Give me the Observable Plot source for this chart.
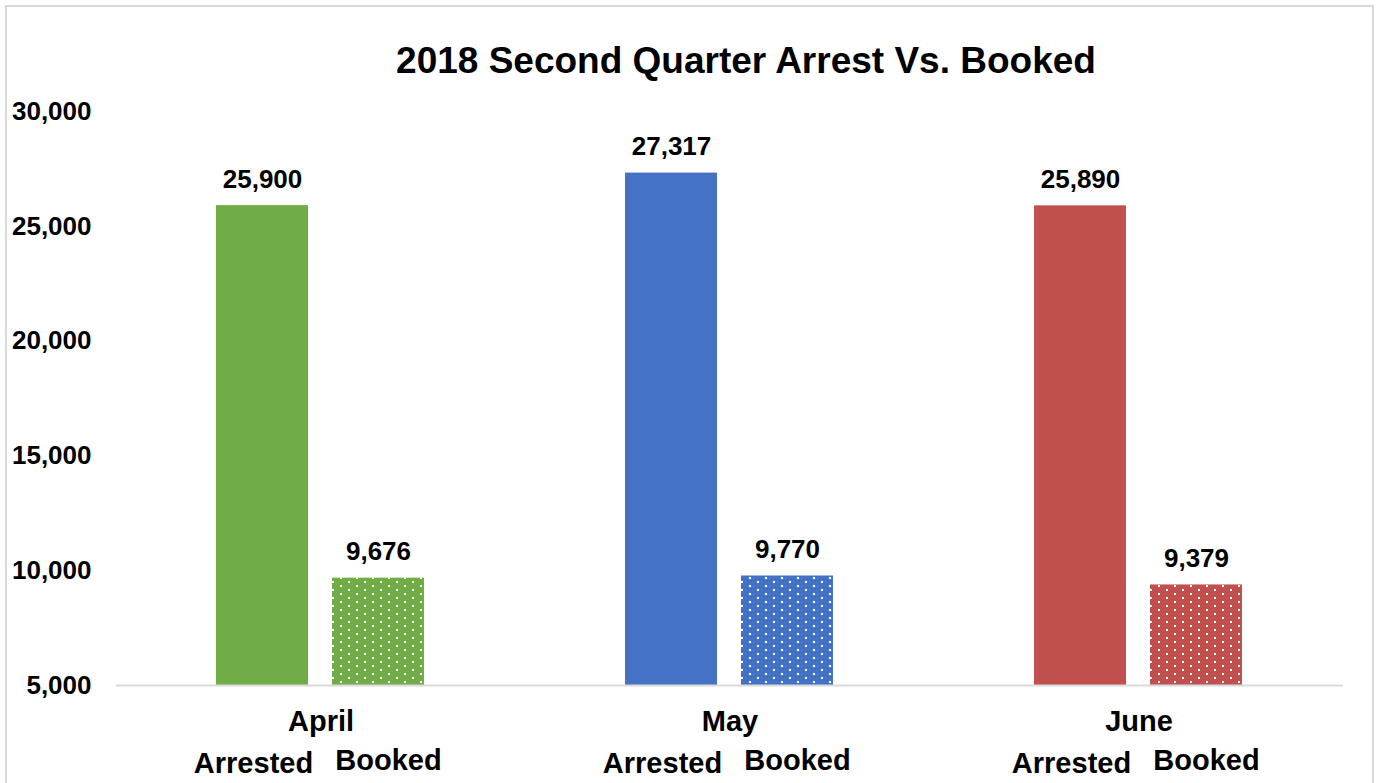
<!DOCTYPE html>
<html>
<head>
<meta charset="utf-8">
<script src="https://cdn.jsdelivr.net/npm/d3@7"></script>
<script src="https://cdn.jsdelivr.net/npm/@observablehq/plot@0.6"></script>
<style>
  html, body { margin: 0; padding: 0; background: #fff; }
  #wrap { position: relative; width: 1376px; height: 783px; overflow: hidden; font-family: "Liberation Sans", Arial, sans-serif; }
  #border { position: absolute; left: 5px; top: 5px; width: 1369px; height: 820px; border: 2px solid #d9d9d9; box-sizing: border-box; }
  #title { position: absolute; left: 746px; top: 42px; transform: translateX(-50%); white-space: nowrap;
           font-size: 37px; line-height: 37px; font-weight: bold; color: #000; }
  #chart { position: absolute; left: 0; top: 0; }
</style>
</head>
<body>
<div id="wrap">
  <div id="border"></div>
  <div id="chart"></div>
  <div id="title">2018 Second Quarter Arrest Vs. Booked</div>
</div>
<script>
const months = ["April", "May", "June"];
const types = ["Arrested", "Booked"];
const arrested = [25900, 27317, 25890];
const booked = [9676, 9770, 9379];
const monthColors = ["#70AD47", "#4472C4", "#C0504D"];
const yDomain = [5000, 30000];
const yTicks = [5000, 10000, 15000, 20000, 25000, 30000];

const data = [];
months.forEach((m, i) => {
  data.push({month: m, type: types[0], value: arrested[i], color: monthColors[i], idx: i});
  data.push({month: m, type: types[1], value: booked[i], color: monthColors[i], idx: i});
});
const fillOf = d => d.type === "Booked" ? `url(#dots-${d.idx})` : d.color;
const fmt = d3.format(",");
const font = "'Liberation Sans', Arial, sans-serif";
const arrestedRows = data.filter(d => d.type === "Arrested");
const bookedRows = data.filter(d => d.type === "Booked");

const chart = Plot.plot({
  width: 1376,
  height: 783,
  marginLeft: 115,
  marginRight: 32,
  marginTop: 111,
  marginBottom: 98,
  style: {fontFamily: font, fontWeight: "bold", color: "#000", background: "transparent", overflow: "visible"},
  fx: {domain: months, padding: 0, axis: null},
  x: {domain: types, paddingInner: 0.205, paddingOuter: 0.855, axis: null},
  y: {domain: yDomain, axis: null},
  color: {type: "identity"},
  marks: [
    Plot.barY(data, {fx: "month", x: "type", y1: () => yDomain[0], y2: "value", fill: fillOf}),
    Plot.ruleY([yDomain[0]], {stroke: "#d9d9d9", strokeWidth: 2}),
    Plot.axisY({ticks: yTicks, tickFormat: fmt, tickSize: 0, tickPadding: 25, fontSize: 26, fontWeight: "bold", label: null}),
    Plot.text(data, {fx: "month", x: "type", y: "value", text: d => fmt(d.value), lineAnchor: "bottom", dy: -18, fontSize: 26, fontWeight: "bold", fill: "#000"}),
    Plot.text(months, {fx: d => d, text: d => d, frameAnchor: "bottom", lineAnchor: "bottom", dy: 45, fontSize: 29, fontWeight: "bold", fill: "#000"}),
    Plot.text(arrestedRows, {fx: "month", x: "type", text: "type", frameAnchor: "bottom", lineAnchor: "bottom", dy: 87, dx: -9, fontSize: 29, fontWeight: "bold", fill: "#000"}),
    Plot.text(bookedRows, {fx: "month", x: "type", text: "type", frameAnchor: "bottom", lineAnchor: "bottom", dy: 84, dx: 10, fontSize: 29, fontWeight: "bold", fill: "#000"})
  ]
});

const defs = monthColors.map((c, i) =>
  `<pattern id="dots-${i}" patternUnits="userSpaceOnUse" width="16" height="8">
     <rect width="16" height="8" fill="${c}"/>
     <rect x="3" y="1" width="2" height="2" fill="#fff"/>
     <rect x="11" y="5" width="2" height="2" fill="#fff"/>
   </pattern>`).join("");
chart.insertAdjacentHTML("afterbegin", `<defs>${defs}</defs>`);
document.getElementById("chart").appendChild(chart);
</script>
</body>
</html>
